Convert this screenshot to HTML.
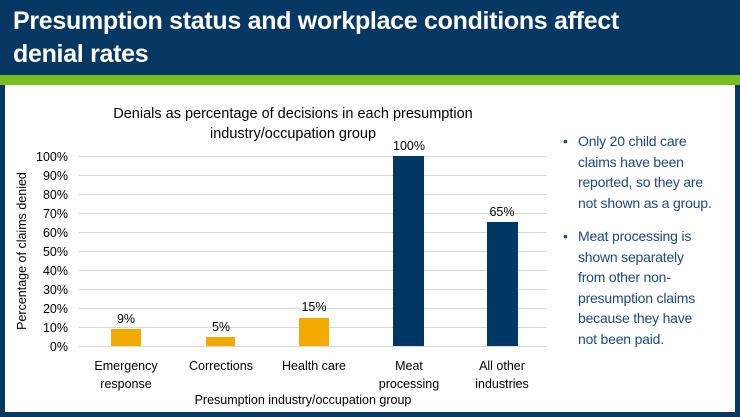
<!DOCTYPE html>
<html><head><style>
body{margin:0;width:740px;height:417px;background:#073763;position:relative;overflow:hidden;font-family:"Liberation Sans",sans-serif}
.h{position:absolute;left:13px;top:5px;color:#fff;font-weight:bold;font-size:25px;line-height:33px;letter-spacing:-0.3px}
.g{position:absolute;left:0;top:75px;width:740px;height:10px;background:#78be20}
.p{position:absolute;left:5px;top:85px;width:730px;height:327px;background:#fff}
.b{position:absolute;left:563px;font-size:14px;color:#1f497d;line-height:20.5px;width:175px;white-space:nowrap;letter-spacing:-0.2px}
.b span{position:absolute;left:0}
.b div{margin-left:15px}
</style></head><body>
<div class="h">Presumption status and workplace conditions affect<br>denial rates</div>
<div class="g"></div>
<div class="p"></div>
<svg style="position:absolute;left:0;top:0" width="740" height="417" font-family="Liberation Sans, sans-serif" font-size="12.5">
<g stroke="#d9d9d9" stroke-width="1">
<line x1="79" x2="547" y1="156.5" y2="156.5"/><line x1="79" x2="547" y1="175.5" y2="175.5"/><line x1="79" x2="547" y1="194.5" y2="194.5"/><line x1="79" x2="547" y1="213.5" y2="213.5"/><line x1="79" x2="547" y1="232.5" y2="232.5"/><line x1="79" x2="547" y1="251.5" y2="251.5"/><line x1="79" x2="547" y1="270.5" y2="270.5"/><line x1="79" x2="547" y1="289.5" y2="289.5"/><line x1="79" x2="547" y1="308.5" y2="308.5"/><line x1="79" x2="547" y1="327.5" y2="327.5"/><line x1="79" x2="547" y1="346.5" y2="346.5"/>
</g>
<g text-anchor="end" fill="#000">
<text x="68" y="161">100%</text><text x="68" y="180">90%</text><text x="68" y="199">80%</text><text x="68" y="218">70%</text><text x="68" y="237">60%</text><text x="68" y="256">50%</text><text x="68" y="275">40%</text><text x="68" y="294">30%</text><text x="68" y="313">20%</text><text x="68" y="332">10%</text><text x="68" y="351">0%</text>
</g>
<rect x="111" y="329" width="30" height="17" fill="#f2a900"/>
<rect x="206" y="337" width="29" height="9" fill="#f2a900"/>
<rect x="299" y="318" width="30" height="28" fill="#f2a900"/>
<rect x="393" y="156" width="31" height="190" fill="#003865"/>
<rect x="487" y="222" width="31" height="124" fill="#003865"/>
<g text-anchor="middle" fill="#000">
<text x="126" y="323">9%</text><text x="221" y="331">5%</text><text x="314" y="311">15%</text><text x="409" y="150">100%</text><text x="502" y="216">65%</text>
<text x="126" y="370">Emergency</text><text x="126" y="388">response</text>
<text x="221" y="370">Corrections</text>
<text x="314" y="370">Health care</text>
<text x="409" y="370">Meat</text><text x="409" y="388">processing</text>
<text x="502" y="370">All other</text><text x="502" y="388">industries</text>
<text x="303" y="404">Presumption industry/occupation group</text>
<text x="293" y="118" font-size="14.5">Denials as percentage of decisions in each presumption</text>
<text x="293" y="138" font-size="14.5">industry/occupation group</text>
<text transform="translate(26,251) rotate(-90)">Percentage of claims denied</text>
</g>
</svg>
<div class="b" style="top:131px"><span>•</span><div>Only 20 child care<br>claims have been<br>reported, so they are<br>not shown as a group.</div></div>
<div class="b" style="top:226px"><span>•</span><div>Meat processing is<br>shown separately<br>from other non-<br>presumption claims<br>because they have<br>not been paid.</div></div>
</body></html>
